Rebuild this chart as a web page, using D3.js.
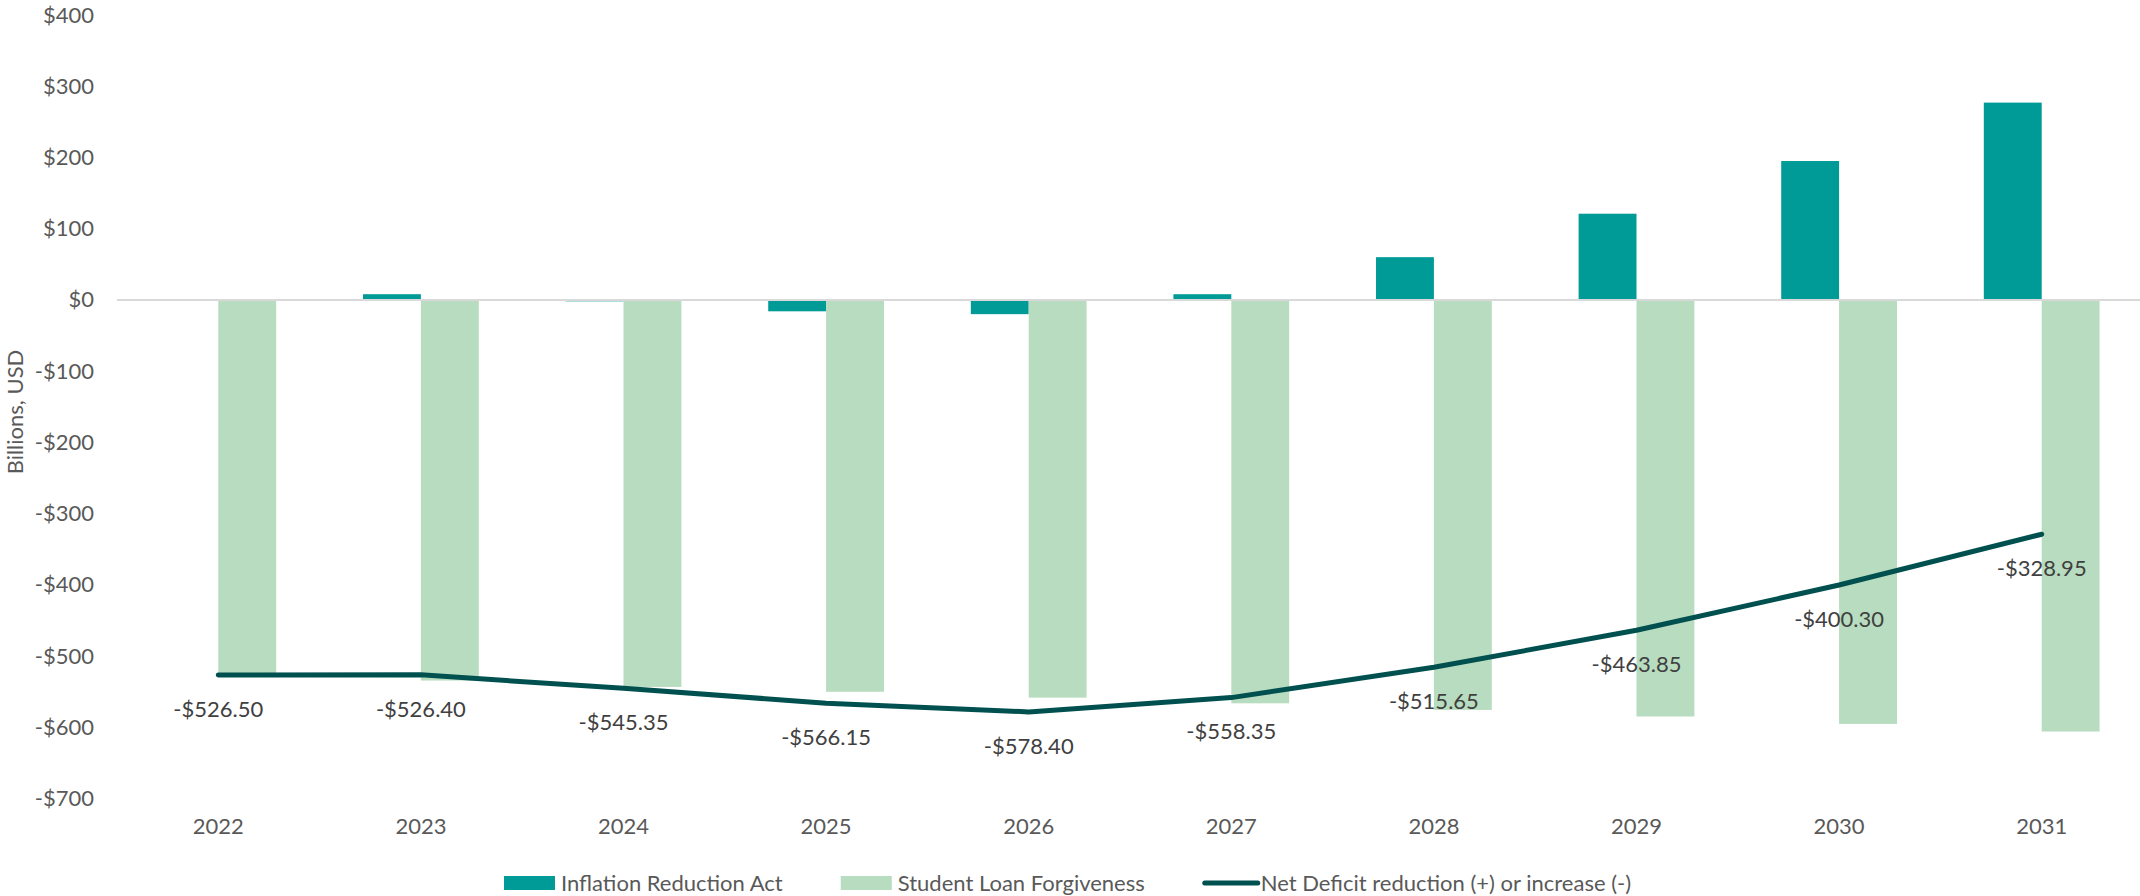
<!DOCTYPE html>
<html>
<head>
<meta charset="utf-8">
<script src="https://cdn.jsdelivr.net/npm/d3@7"></script>
<style>
  html, body { margin: 0; padding: 0; background: #ffffff; }
  svg { display: block; font-family: Lato, "Open Sans", sans-serif; }
</style>
</head>
<body>
<svg id="chart" width="2140" height="896"></svg>
<script>
// Fiscal years on the category axis
const years = ["2022", "2023", "2024", "2025", "2026", "2027", "2028", "2029", "2030", "2031"];

// Budget effect by program, billions of USD
const inflationReductionAct = [0, 8, -2, -16, -20, 8, 60, 121, 195, 277];
const studentLoanForgiveness = [-526.5, -534.4, -543.35, -550.15, -558.4, -566.35, -575.65, -584.85, -595.3, -605.95];

// Net deficit reduction (+) or increase (-), billions of USD
const netDeficit = [-526.5, -526.4, -545.35, -566.15, -578.4, -558.35, -515.65, -463.85, -400.3, -328.95];

// Value-axis ticks
const yTicks = [400, 300, 200, 100, 0, -100, -200, -300, -400, -500, -600, -700];

const seriesNames = ["Inflation Reduction Act", "Student Loan Forgiveness", "Net Deficit reduction (+) or increase (-)"];
const colors = { ira: "#009B96", slf: "#B8DCBF", net: "#00504F" };

const svg = d3.select("#chart");
const W = 2140, H = 896;
const plot = { left: 117, right: 2143, top: 15, bottom: 798.5 };
const FS = "22px";

const x = d3.scaleBand().domain(years).range([plot.left, plot.right]).paddingInner(0).paddingOuter(0);
const xSeries = d3.scaleBand().domain(["ira", "slf"]).range([0, x.bandwidth()]).paddingInner(0).paddingOuter(0.75);
const y = d3.scaleLinear().domain([-700, 400]).range([plot.bottom, plot.top]);

const fmtMoney = v => (v < 0 ? "-" : "") + "$" + d3.format(",")(Math.abs(v));
const fmtLabel = v => (v < 0 ? "-" : "") + "$" + Math.abs(v).toFixed(2);

// Value axis labels (no axis line or tick marks)
const yAxis = d3.axisLeft(y).tickValues(yTicks).tickFormat(fmtMoney).tickSize(0).tickPadding(0);
const gy = svg.append("g").attr("transform", "translate(94,0)").call(yAxis);
gy.select(".domain").remove();
gy.selectAll("text").attr("fill", "#595959").style("font-size", FS).style("font-family", "Lato, sans-serif");

// Category axis labels
const xAxis = d3.axisBottom(x).tickSize(0).tickPadding(0);
const gx = svg.append("g").attr("transform", "translate(0,818)").call(xAxis);
gx.select(".domain").remove();
gx.selectAll("text").attr("fill", "#595959").style("font-size", FS).style("font-family", "Lato, sans-serif");

// Axis title
svg.append("text")
  .attr("transform", `translate(23,${412}) rotate(-90)`)
  .attr("text-anchor", "middle")
  .attr("fill", "#595959")
  .style("font-size", FS)
  .text("Billions, USD");

// Bars
const barData = [];
years.forEach((yr, i) => {
  barData.push({ year: yr, key: "ira", value: inflationReductionAct[i] });
  barData.push({ year: yr, key: "slf", value: studentLoanForgiveness[i] });
});
svg.append("g").selectAll("rect").data(barData).join("rect")
  .attr("x", d => x(d.year) + xSeries(d.key))
  .attr("width", xSeries.bandwidth())
  .attr("y", d => y(Math.max(0, d.value)))
  .attr("height", d => Math.abs(y(d.value) - y(0)))
  .attr("fill", d => colors[d.key]);

// Zero baseline
svg.append("line")
  .attr("x1", plot.left).attr("x2", W)
  .attr("y1", y(0)).attr("y2", y(0))
  .attr("stroke", "#D9D9D9").attr("stroke-width", 2);

// Net line
const line = d3.line()
  .x((d, i) => x(years[i]) + x.bandwidth() / 2)
  .y(d => y(d));
svg.append("path")
  .datum(netDeficit)
  .attr("d", line)
  .attr("fill", "none")
  .attr("stroke", colors.net)
  .attr("stroke-width", 5)
  .attr("stroke-linecap", "round")
  .attr("stroke-linejoin", "round");

// Net value labels below each point
svg.append("g").selectAll("text").data(netDeficit).join("text")
  .attr("x", (d, i) => x(years[i]) + x.bandwidth() / 2)
  .attr("y", d => y(d) + 34)
  .attr("dy", "0.35em")
  .attr("text-anchor", "middle")
  .attr("fill", "#404040")
  .style("font-size", FS)
  .text(fmtLabel);

// Legend
const legend = svg.append("g");
const legendY = 883;
let lx = 504;
const items = [
  { name: seriesNames[0], type: "rect", color: colors.ira },
  { name: seriesNames[1], type: "rect", color: colors.slf },
  { name: seriesNames[2], type: "line", color: colors.net }
];
items.forEach((it, i) => {
  if (it.type === "rect") {
    legend.append("rect").attr("x", lx).attr("y", legendY - 7).attr("width", 51).attr("height", 14).attr("fill", it.color);
  } else {
    legend.append("line").attr("x1", lx + 2).attr("x2", lx + 55).attr("y1", legendY).attr("y2", legendY)
      .attr("stroke", it.color).attr("stroke-width", 5).attr("stroke-linecap", "round");
  }
  const tx = lx + (it.type === "rect" ? 57 : 58);
  const t = legend.append("text")
    .attr("x", tx)
    .attr("y", legendY).attr("dy", "0.35em")
    .attr("fill", "#595959").style("font-size", FS)
    .text(it.name);
  lx = tx + t.node().getComputedTextLength() + 58;
});
</script>
</body>
</html>
